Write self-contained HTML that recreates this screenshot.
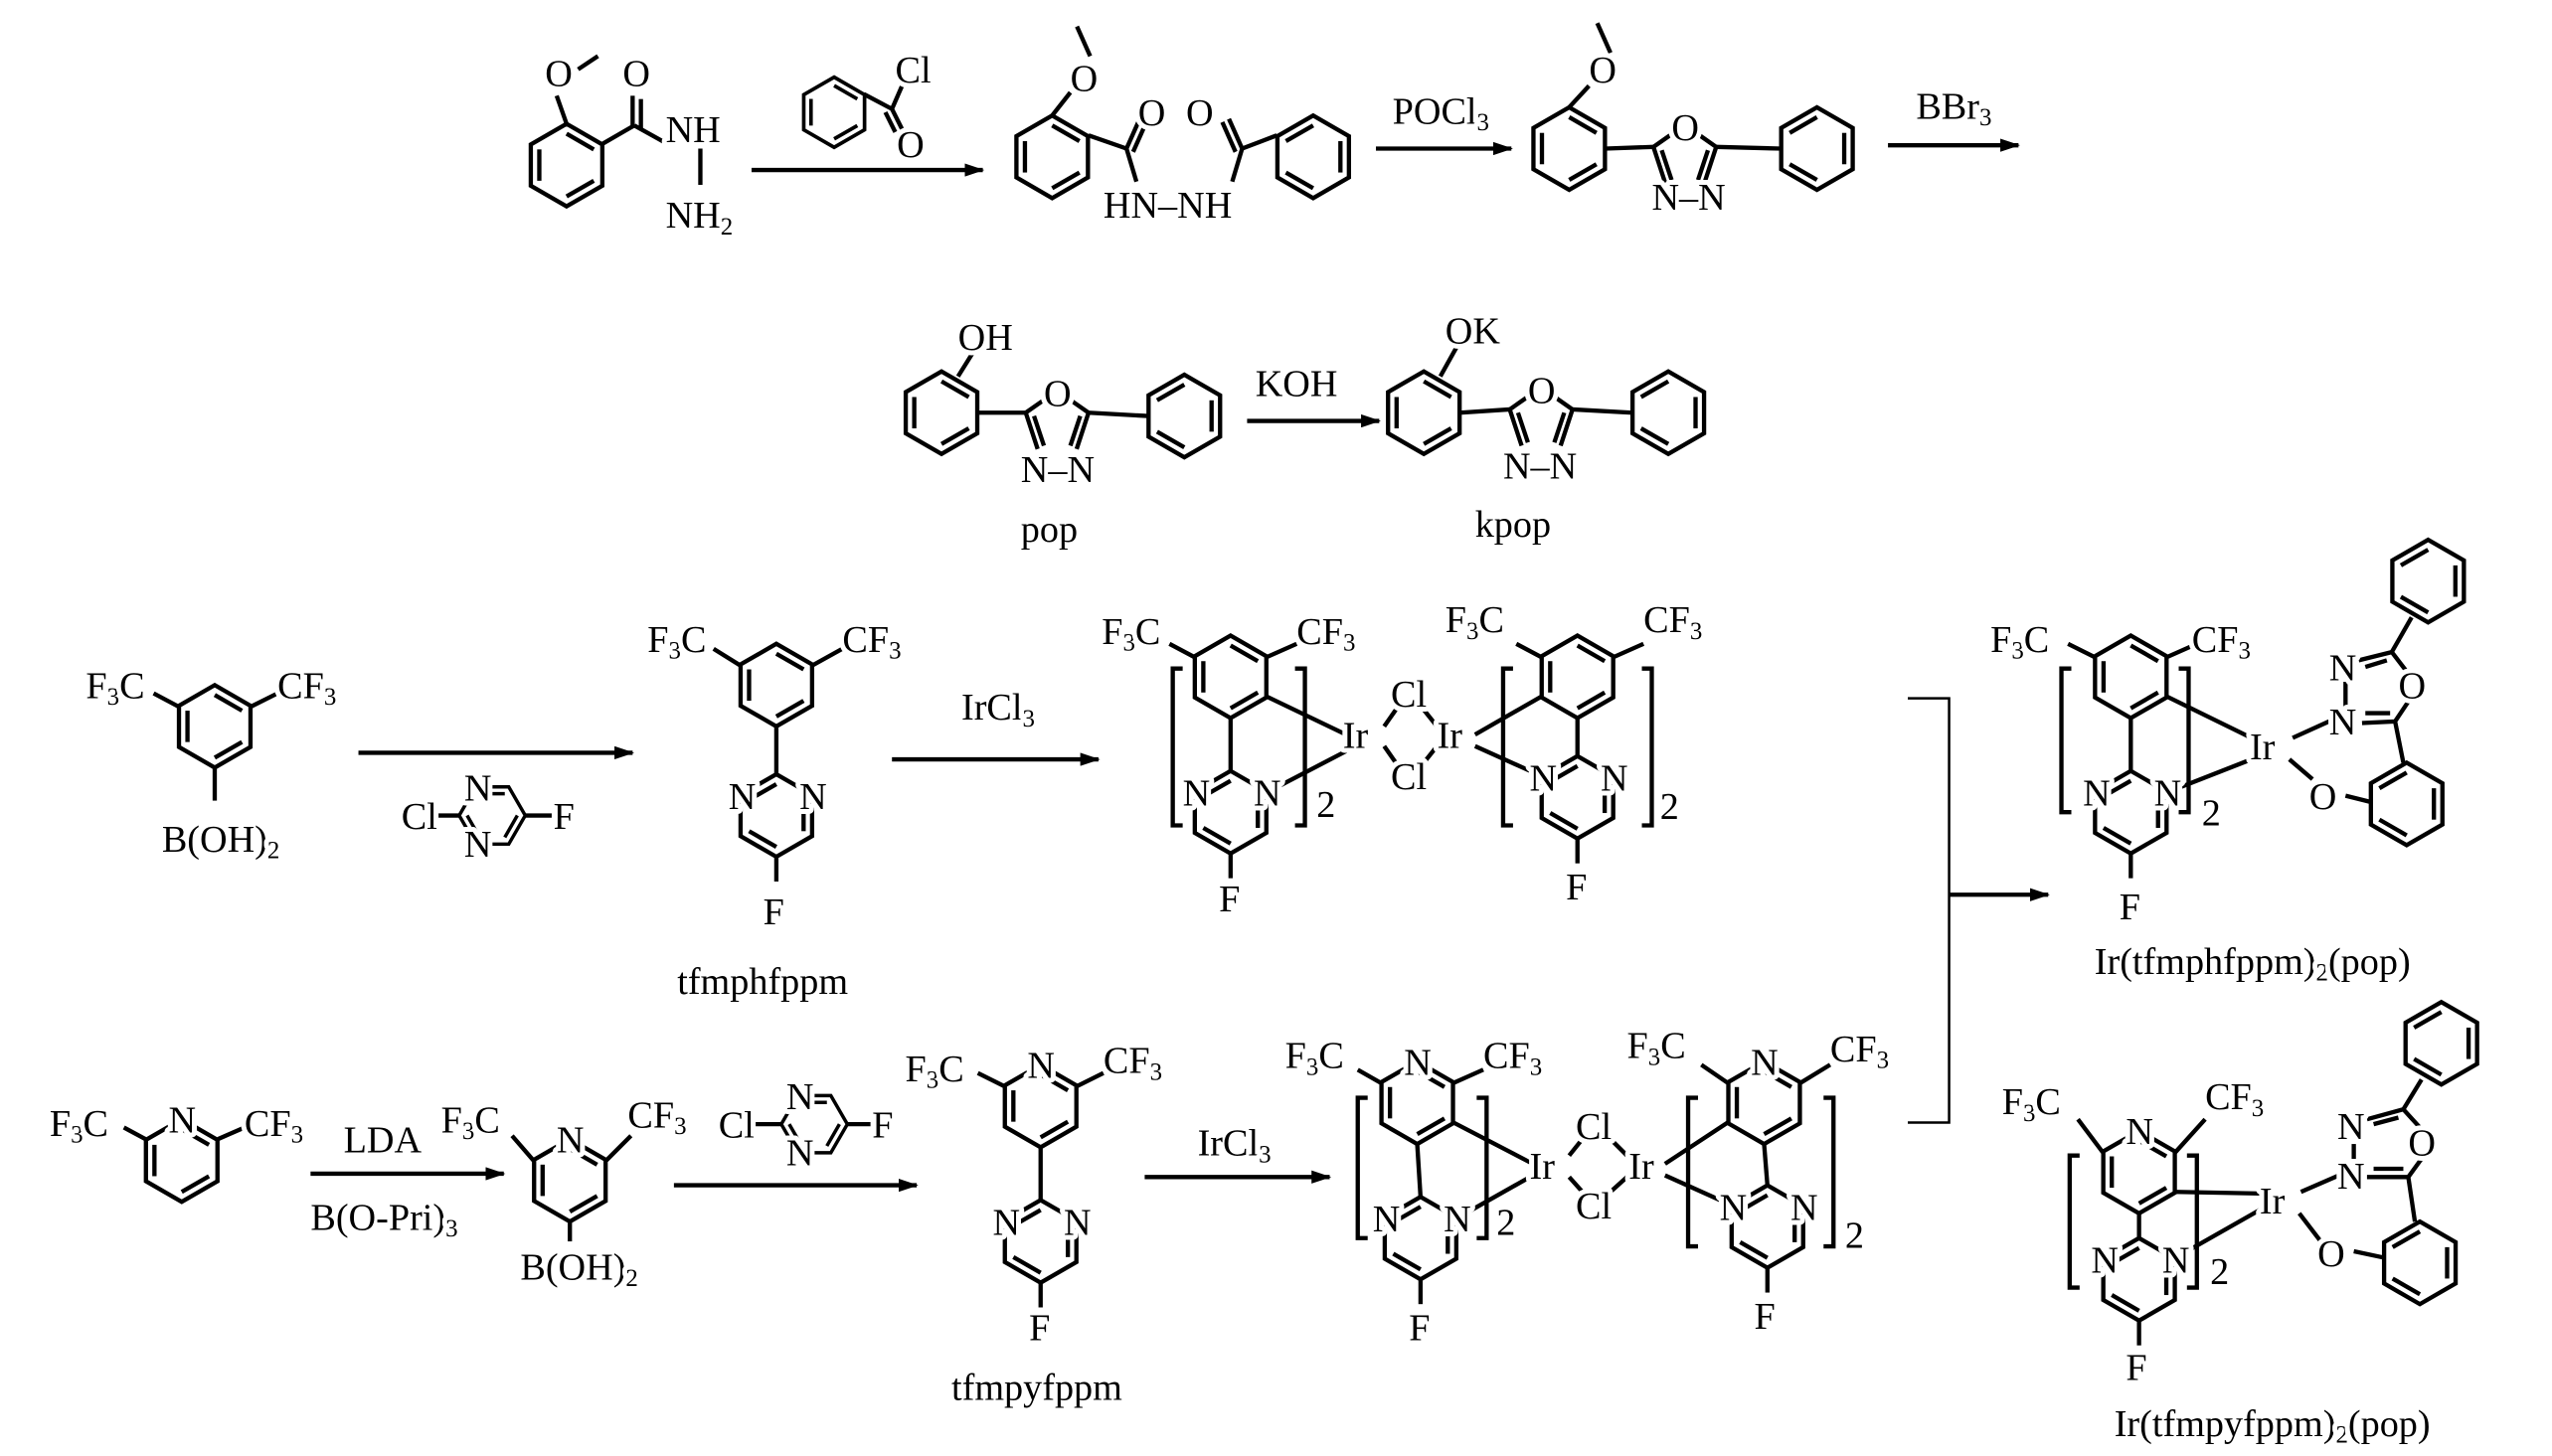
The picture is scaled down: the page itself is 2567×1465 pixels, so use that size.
<!DOCTYPE html>
<html><head><meta charset="utf-8"><style>
html,body{margin:0;padding:0;background:#fff}
svg{display:block}
text{font-family:"Liberation Serif",serif;font-size:23px;fill:#000;stroke:#fff;stroke-width:6px;paint-order:stroke fill;stroke-linejoin:round}
.s{font-size:15px}
</style></head><body>
<svg width="2567" height="1465" viewBox="0 0 1545 882" preserveAspectRatio="none" xmlns="http://www.w3.org/2000/svg">
<defs>
<g id="bz" fill="none" stroke="#000" stroke-width="2.6">
<polygon points="0,-25 21.65,-12.5 21.65,12.5 0,25 -21.65,12.5 -21.65,-12.5"/>
<line x1="0" y1="-19" x2="16.5" y2="-9.5"/><line x1="16.5" y1="9.5" x2="0" y2="19"/><line x1="-16.5" y1="9.5" x2="-16.5" y2="-9.5"/>
</g>
<g id="bz2" fill="none" stroke="#000" stroke-width="2.6">
<polygon points="0,-25 21.65,-12.5 21.65,12.5 0,25 -21.65,12.5 -21.65,-12.5"/>
<line x1="0" y1="-19" x2="-16.5" y2="-9.5"/><line x1="16.5" y1="-9.5" x2="16.5" y2="9.5"/><line x1="-16.5" y1="9.5" x2="0" y2="19"/>
</g>
<g id="pm" fill="none" stroke="#000" stroke-width="2.6">
<use href="#bz2"/>
<line x1="0" y1="25" x2="0" y2="40"/>
</g>
<g id="ox" fill="none" stroke="#000" stroke-width="2.6">
<polyline points="-11.8,16 -19,-6 -9,-13"/><polyline points="9,-13 19,-6 11.8,16"/>
<line x1="-14" y1="-4" x2="-8" y2="14"/><line x1="14" y1="-4" x2="8" y2="14"/>
</g>
<marker id="ar" markerWidth="12" markerHeight="8" refX="11" refY="4" orient="auto" markerUnits="userSpaceOnUse"><path d="M0,0 L12,4 L0,8 Z"/></marker>
</defs>
<g stroke="#000" stroke-width="2.6" fill="none">
<line x1="455" y1="103" x2="595" y2="103" marker-end="url(#ar)"/>
<line x1="833" y1="90" x2="915" y2="90" marker-end="url(#ar)"/>
<line x1="1143" y1="88" x2="1222" y2="88" marker-end="url(#ar)"/>
<line x1="755" y1="255" x2="835" y2="255" marker-end="url(#ar)"/>
<line x1="217" y1="456" x2="383" y2="456" marker-end="url(#ar)"/>
<line x1="540" y1="460" x2="665" y2="460" marker-end="url(#ar)"/>
<line x1="188" y1="711" x2="305" y2="711" marker-end="url(#ar)"/>
<line x1="408" y1="718" x2="555" y2="718" marker-end="url(#ar)"/>
<line x1="693" y1="713" x2="805" y2="713" marker-end="url(#ar)"/>
<polyline points="1155,423 1180,423 1180,680 1155,680" stroke-width="1.5"/>
<line x1="1180" y1="542" x2="1240" y2="542" marker-end="url(#ar)"/>
<line x1="343" y1="75" x2="337" y2="58"/><line x1="350" y1="42" x2="362" y2="34"/>
<line x1="365" y1="87" x2="384" y2="76"/><line x1="383" y1="76" x2="383" y2="58"/><line x1="388" y1="78" x2="388" y2="60"/>
<line x1="384" y1="76" x2="402" y2="86"/><line x1="424" y1="90" x2="424" y2="112"/>
<line x1="523" y1="57" x2="540" y2="66"/><line x1="540" y1="66" x2="547" y2="50"/><line x1="540" y1="66" x2="546" y2="78"/><line x1="536" y1="68" x2="542" y2="80"/>
<line x1="637" y1="70" x2="648" y2="56"/><line x1="660" y1="34" x2="652" y2="16"/>
<line x1="659" y1="82" x2="682" y2="90"/><line x1="682" y1="90" x2="690" y2="72"/><line x1="686" y1="92" x2="694" y2="74"/><line x1="682" y1="90" x2="688" y2="110"/>
<line x1="773" y1="82" x2="752" y2="90"/><line x1="752" y1="90" x2="744" y2="72"/><line x1="748" y1="92" x2="740" y2="74"/><line x1="752" y1="90" x2="746" y2="110"/>
<line x1="950" y1="65" x2="962" y2="52"/><line x1="975" y1="32" x2="967" y2="14"/>
<line x1="972" y1="90" x2="1001" y2="89"/><line x1="1039" y1="89" x2="1078" y2="90"/>
<line x1="580" y1="228" x2="590" y2="212"/>
<line x1="592" y1="250" x2="621" y2="250"/><line x1="659" y1="250" x2="695" y2="252"/>
<line x1="872" y1="228" x2="882" y2="210"/>
<line x1="884" y1="250" x2="914" y2="248"/><line x1="952" y1="248" x2="988" y2="250"/>
<line x1="108" y1="428" x2="93" y2="420"/><line x1="152" y1="428" x2="168" y2="420"/><line x1="130" y1="465" x2="130" y2="485"/>
<line x1="262" y1="494" x2="278" y2="494"/><line x1="318" y1="494" x2="334" y2="494"/>
<line x1="448" y1="403" x2="432" y2="393"/><line x1="492" y1="403" x2="510" y2="393"/><line x1="470" y1="440" x2="470" y2="469"/>
<line x1="723" y1="398" x2="708" y2="390"/><line x1="767" y1="398" x2="785" y2="390"/><line x1="745" y1="435" x2="745" y2="467"/>
<line x1="767" y1="422" x2="815" y2="445"/><line x1="767" y1="480" x2="815" y2="455"/>
<line x1="838" y1="440" x2="845" y2="430"/><line x1="838" y1="452" x2="845" y2="462"/><line x1="862" y1="430" x2="870" y2="440"/><line x1="862" y1="462" x2="870" y2="452"/>
<path d="M716,405 H710 V500 H716 M784,405 H790 V500 H784"/>
<line x1="933" y1="398" x2="918" y2="390"/><line x1="977" y1="398" x2="995" y2="390"/><line x1="955" y1="435" x2="955" y2="458"/>
<line x1="933" y1="422" x2="893" y2="445"/><line x1="933" y1="470" x2="893" y2="452"/>
<path d="M916,405 H910 V500 H916 M994,405 H1000 V500 H994"/>
<line x1="1268" y1="398" x2="1252" y2="390"/><line x1="1312" y1="398" x2="1330" y2="390"/><line x1="1290" y1="435" x2="1290" y2="467"/>
<line x1="1312" y1="422" x2="1363" y2="447"/><line x1="1312" y1="480" x2="1363" y2="460"/>
<line x1="1388" y1="447" x2="1410" y2="437"/><line x1="1386" y1="460" x2="1400" y2="472"/>
<polyline points="1428,400 1448,395 1458,408"/><polyline points="1458,425 1450,437 1430,438"/><line x1="1445" y1="400" x2="1432" y2="404"/><line x1="1447" y1="432" x2="1432" y2="432"/><line x1="1420" y1="413" x2="1420" y2="428"/>
<line x1="1448" y1="395" x2="1460" y2="374"/><line x1="1450" y1="437" x2="1455" y2="462"/><line x1="1420" y1="482" x2="1436" y2="486"/>
<path d="M1254,405 H1248 V492 H1254 M1319,405 H1325 V492 H1319"/>
<line x1="88" y1="690" x2="75" y2="683"/><line x1="132" y1="690" x2="148" y2="683"/>
<line x1="323" y1="703" x2="310" y2="688"/><line x1="367" y1="703" x2="382" y2="688"/><line x1="345" y1="740" x2="345" y2="752"/>
<line x1="457" y1="681" x2="473" y2="681"/><line x1="513" y1="681" x2="527" y2="681"/>
<line x1="608" y1="658" x2="592" y2="650"/><line x1="652" y1="658" x2="668" y2="650"/><line x1="630" y1="695" x2="630" y2="727"/>
<line x1="836" y1="656" x2="822" y2="648"/><line x1="880" y1="656" x2="898" y2="648"/><line x1="858" y1="693" x2="860" y2="725"/>
<line x1="880" y1="680" x2="928" y2="705"/><line x1="882" y1="738" x2="928" y2="712"/>
<line x1="950" y1="700" x2="958" y2="690"/><line x1="950" y1="713" x2="958" y2="722"/><line x1="975" y1="690" x2="985" y2="700"/><line x1="975" y1="722" x2="985" y2="713"/>
<path d="M828,665 H822 V750 H828 M894,665 H900 V750 H894"/>
<line x1="1046" y1="656" x2="1030" y2="645"/><line x1="1090" y1="656" x2="1108" y2="645"/><line x1="1068" y1="693" x2="1070" y2="718"/>
<line x1="1046" y1="680" x2="1008" y2="705"/><line x1="1048" y1="730" x2="1008" y2="712"/>
<path d="M1028,665 H1022 V755 H1028 M1104,665 H1110 V755 H1104"/>
<line x1="1273" y1="698" x2="1258" y2="678"/><line x1="1317" y1="698" x2="1335" y2="678"/><line x1="1295" y1="735" x2="1295" y2="750"/>
<line x1="1317" y1="722" x2="1368" y2="723"/><line x1="1317" y1="762" x2="1368" y2="733"/>
<line x1="1393" y1="722" x2="1416" y2="712"/><line x1="1392" y1="735" x2="1405" y2="752"/>
<polyline points="1433,678 1455,672 1465,683"/><polyline points="1466,702 1458,713 1433,713"/><line x1="1452" y1="677" x2="1437" y2="681"/><line x1="1455" y1="708" x2="1437" y2="708"/><line x1="1425" y1="693" x2="1425" y2="702"/>
<line x1="1455" y1="672" x2="1466" y2="654"/><line x1="1458" y1="713" x2="1462" y2="740"/><line x1="1425" y1="758" x2="1444" y2="762"/>
<path d="M1259,700 H1253 V780 H1259 M1324,700 H1330 V780 H1324"/>
</g>
<use href="#bz" transform="translate(343,100)"/>
<use href="#bz" transform="translate(505,68) scale(0.85)"/>
<use href="#bz" transform="translate(637,95)"/>
<use href="#bz2" transform="translate(795,95)"/>
<use href="#bz" transform="translate(950,90)"/>
<use href="#ox" transform="translate(1020,95)"/>
<use href="#bz2" transform="translate(1100,90)"/>
<use href="#bz" transform="translate(570,250)"/>
<use href="#ox" transform="translate(640,256)"/>
<use href="#bz2" transform="translate(717,252)"/>
<use href="#bz" transform="translate(862,250)"/>
<use href="#ox" transform="translate(933,254)"/>
<use href="#bz2" transform="translate(1010,250)"/>
<use href="#bz" transform="translate(130,440)"/>
<use href="#bz" transform="translate(298,494) rotate(90) scale(0.8)"/>
<use href="#bz" transform="translate(470,415)"/>
<use href="#pm" transform="translate(470,494)"/>
<use href="#bz" transform="translate(745,410)"/>
<use href="#pm" transform="translate(745,492)"/>
<use href="#bz" transform="translate(955,410)"/>
<use href="#pm" transform="translate(955,483)"/>
<use href="#bz" transform="translate(1290,410)"/>
<use href="#pm" transform="translate(1290,492)"/>
<use href="#bz2" transform="translate(1470,352)"/>
<use href="#bz2" transform="translate(1457,487)"/>
<use href="#bz" transform="translate(110,703)"/>
<use href="#bz" transform="translate(345,715)"/>
<use href="#bz" transform="translate(493,681) rotate(90) scale(0.8)"/>
<use href="#bz" transform="translate(630,670)"/>
<use href="#pm" transform="translate(630,752)"/>
<use href="#bz" transform="translate(858,668)"/>
<use href="#pm" transform="translate(860,750)"/>
<use href="#bz" transform="translate(1068,668)"/>
<use href="#pm" transform="translate(1070,743)"/>
<use href="#bz" transform="translate(1295,710)"/>
<use href="#pm" transform="translate(1295,775)"/>
<use href="#bz2" transform="translate(1478,632)"/>
<use href="#bz2" transform="translate(1465,765)"/>
<text x="330" y="52">O</text><text x="377" y="52">O</text><text x="403" y="86">NH</text><text x="403" y="138">NH<tspan class="s" dy="4">2</tspan></text>
<text x="542" y="50">Cl</text><text x="543" y="95">O</text>
<text x="648" y="55">O</text><text x="689" y="76">O</text><text x="718" y="76">O</text><text x="668" y="132">HN–NH</text>
<text x="843" y="75">POCl<tspan class="s" dy="4">3</tspan></text>
<text x="962" y="50">O</text><text x="1012" y="85">O</text><text x="1000" y="127">N–N</text>
<text x="1160" y="72">BBr<tspan class="s" dy="4">3</tspan></text>
<text x="580" y="212">OH</text><text x="632" y="246">O</text><text x="618" y="292">N–N</text><text x="618" y="328">pop</text>
<text x="760" y="240">KOH</text>
<text x="875" y="208">OK</text><text x="925" y="244">O</text><text x="910" y="290">N–N</text><text x="893" y="325">kpop</text>
<text x="52" y="423">F<tspan class="s" dy="4">3</tspan><tspan dy="-4">C</tspan></text><text x="168" y="423">CF<tspan class="s" dy="4">3</tspan></text><text x="98" y="516">B(OH)<tspan class="s" dy="4">2</tspan></text>
<text x="243" y="502">Cl</text><text x="281" y="485">N</text><text x="281" y="519">N</text><text x="335" y="502">F</text>
<text x="392" y="395">F<tspan class="s" dy="4">3</tspan><tspan dy="-4">C</tspan></text><text x="510" y="395">CF<tspan class="s" dy="4">3</tspan></text>
<text x="441" y="490">N</text><text x="484" y="490">N</text><text x="462" y="560">F</text><text x="410" y="602">tfmphfppm</text>
<text x="582" y="436">IrCl<tspan class="s" dy="4">3</tspan></text>
<text x="667" y="390">F<tspan class="s" dy="4">3</tspan><tspan dy="-4">C</tspan></text><text x="785" y="390">CF<tspan class="s" dy="4">3</tspan></text>
<text x="716" y="488">N</text><text x="759" y="488">N</text><text x="738" y="552">F</text><text x="797" y="495">2</text>
<text x="813" y="453">Ir</text><text x="842" y="428">Cl</text><text x="842" y="478">Cl</text><text x="870" y="453">Ir</text>
<text x="875" y="383">F<tspan class="s" dy="4">3</tspan><tspan dy="-4">C</tspan></text><text x="995" y="383">CF<tspan class="s" dy="4">3</tspan></text>
<text x="926" y="479">N</text><text x="969" y="479">N</text><text x="948" y="545">F</text><text x="1005" y="496">2</text>
<text x="1205" y="395">F<tspan class="s" dy="4">3</tspan><tspan dy="-4">C</tspan></text><text x="1327" y="395">CF<tspan class="s" dy="4">3</tspan></text>
<text x="1261" y="488">N</text><text x="1304" y="488">N</text><text x="1283" y="557">F</text><text x="1333" y="500">2</text>
<text x="1362" y="460">Ir</text><text x="1410" y="412">N</text><text x="1452" y="423">O</text><text x="1410" y="445">N</text><text x="1398" y="490">O</text>
<text x="1268" y="590">Ir(tfmphfppm)<tspan class="s" dy="4">2</tspan><tspan dy="-4">(pop)</tspan></text>
<text x="30" y="688">F<tspan class="s" dy="4">3</tspan><tspan dy="-4">C</tspan></text><text x="102" y="686">N</text><text x="148" y="688">CF<tspan class="s" dy="4">3</tspan></text>
<text x="208" y="698">LDA</text><text x="188" y="745">B(O-Pri)<tspan class="s" dy="4">3</tspan></text>
<text x="267" y="686">F<tspan class="s" dy="4">3</tspan><tspan dy="-4">C</tspan></text><text x="337" y="698">N</text><text x="380" y="683">CF<tspan class="s" dy="4">3</tspan></text><text x="315" y="775">B(OH)<tspan class="s" dy="4">2</tspan></text>
<text x="435" y="689">Cl</text><text x="476" y="672">N</text><text x="476" y="706">N</text><text x="528" y="689">F</text>
<text x="548" y="655">F<tspan class="s" dy="4">3</tspan><tspan dy="-4">C</tspan></text><text x="622" y="653">N</text><text x="668" y="650">CF<tspan class="s" dy="4">3</tspan></text>
<text x="601" y="748">N</text><text x="644" y="748">N</text><text x="623" y="812">F</text><text x="576" y="848">tfmpyfppm</text>
<text x="725" y="700">IrCl<tspan class="s" dy="4">3</tspan></text>
<text x="778" y="647">F<tspan class="s" dy="4">3</tspan><tspan dy="-4">C</tspan></text><text x="850" y="651">N</text><text x="898" y="647">CF<tspan class="s" dy="4">3</tspan></text>
<text x="831" y="746">N</text><text x="874" y="746">N</text><text x="853" y="812">F</text><text x="906" y="748">2</text>
<text x="926" y="714">Ir</text><text x="954" y="690">Cl</text><text x="954" y="738">Cl</text><text x="986" y="714">Ir</text>
<text x="985" y="641">F<tspan class="s" dy="4">3</tspan><tspan dy="-4">C</tspan></text><text x="1060" y="651">N</text><text x="1108" y="643">CF<tspan class="s" dy="4">3</tspan></text>
<text x="1041" y="739">N</text><text x="1084" y="739">N</text><text x="1062" y="805">F</text><text x="1117" y="756">2</text>
<text x="1212" y="675">F<tspan class="s" dy="4">3</tspan><tspan dy="-4">C</tspan></text><text x="1287" y="693">N</text><text x="1335" y="672">CF<tspan class="s" dy="4">3</tspan></text>
<text x="1266" y="771">N</text><text x="1309" y="771">N</text><text x="1287" y="836">F</text><text x="1338" y="778">2</text>
<text x="1368" y="735">Ir</text><text x="1415" y="690">N</text><text x="1458" y="700">O</text><text x="1415" y="720">N</text><text x="1403" y="767">O</text>
<text x="1280" y="870">Ir(tfmpyfppm)<tspan class="s" dy="4">2</tspan><tspan dy="-4">(pop)</tspan></text>
</svg>
</body></html>
